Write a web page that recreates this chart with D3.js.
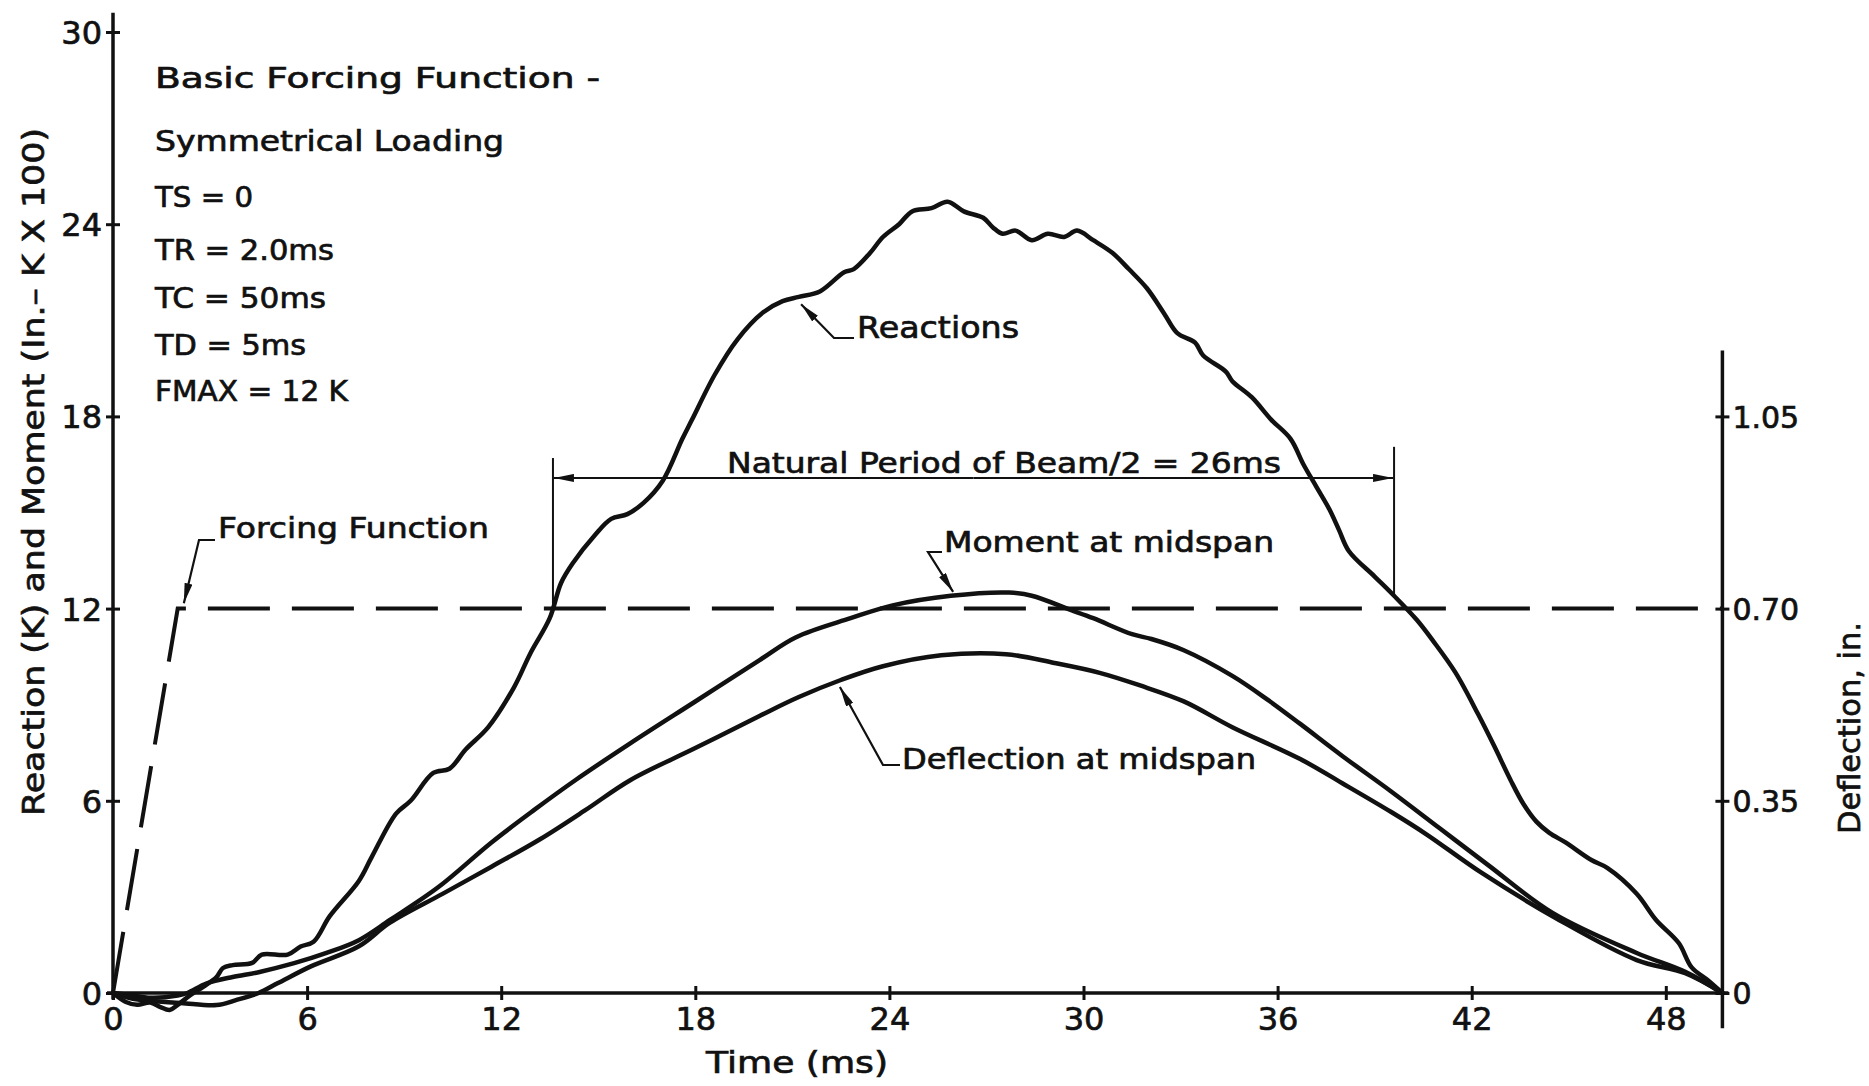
<!DOCTYPE html>
<html>
<head>
<meta charset="utf-8">
<script src="https://cdn.jsdelivr.net/npm/d3@7"></script>
<style>
  html, body { margin: 0; padding: 0; background: #fff; }
  svg { display: block; background: #fff; }
  text { font-family: "DejaVu Sans", "Liberation Sans", sans-serif; fill: #111; font-weight: normal;
         stroke: #111; stroke-width: 0.7px; }
</style>
</head>
<body>
<svg id="chart" width="1869" height="1086"></svg>
<script>
// ---- data ----
const timeTicks = [0, 6, 12, 18, 24, 30, 36, 42, 48];
const forceTicks = [0, 6, 12, 18, 24, 30];
const deflTicks = [0, 0.35, 0.70, 1.05];
const deflTickLabels = ["0", "0.35", "0.70", "1.05"];

const parameterLines = ["TS = 0", "TR = 2.0ms", "TC = 50ms", "TD = 5ms", "FMAX = 12 K"];

// forcing function (K) vs time (ms)
const forcing = [[0, 0], [2, 12], [49.75, 12]];

// support reactions (K) vs time (ms)
const reactions = [
  [0, 0], [0.4, -0.28], [0.75, -0.37], [1.15, -0.3], [1.45, -0.43], [1.75, -0.53], [2.0, -0.37],
  [2.4, -0.06], [2.8, 0.2], [3.2, 0.5], [3.4, 0.78], [3.7, 0.87], [4.3, 0.94], [4.6, 1.2],
  [5.4, 1.2], [5.8, 1.45], [6.2, 1.6], [6.7, 2.4], [7.6, 3.5], [8.0, 4.25], [8.75, 5.6],
  [9.2, 6.0], [9.9, 6.87], [10.4, 7.0], [10.9, 7.6], [11.6, 8.3], [12.4, 9.55], [12.9, 10.6],
  [13.5, 11.7], [13.85, 12.8], [14.2, 13.4], [14.9, 14.3], [15.4, 14.8], [15.9, 14.95],
  [16.4, 15.3], [17.0, 16.0], [17.6, 17.3], [17.9, 17.9], [18.6, 19.3], [19.3, 20.4],
  [20.1, 21.25], [20.7, 21.6], [21.2, 21.73], [21.85, 21.9], [22.6, 22.5], [22.9, 22.6],
  [23.4, 23.1], [23.8, 23.6], [24.3, 24.0], [24.7, 24.4], [25.3, 24.5], [25.8, 24.7],
  [26.3, 24.4], [26.9, 24.2], [27.2, 23.9], [27.5, 23.7], [27.9, 23.8], [28.4, 23.5],
  [28.9, 23.7], [29.4, 23.6], [29.8, 23.8], [30.3, 23.5], [30.9, 23.1], [31.4, 22.6],
  [31.96, 22.0], [32.5, 21.2], [32.9, 20.6], [33.45, 20.3], [33.7, 19.9], [34.4, 19.4],
  [34.6, 19.1], [35.2, 18.6], [35.8, 17.9], [36.4, 17.3], [36.8, 16.5], [37.2, 15.8],
  [37.6, 15.1], [37.9, 14.45], [38.2, 13.8], [39.0, 13.0], [39.6, 12.4], [40.3, 11.65],
  [40.8, 11.0], [41.5, 10.0], [42.2, 8.7], [42.7, 7.7], [43.2, 6.65], [43.6, 5.9],
  [44.0, 5.35], [44.4, 5.0], [44.9, 4.7], [45.7, 4.15], [46.2, 3.9], [47.1, 3.1],
  [47.7, 2.28], [48.4, 1.56], [48.8, 0.8], [49.3, 0.4], [49.75, 0]
];

// moment at midspan (in-K x 100) vs time (ms)
const moment = [
  [0, 0], [0.4, -0.05], [1.2, -0.15], [2.0, -0.08], [2.3, 0], [2.9, 0.3], [3.7, 0.5],
  [4.5, 0.65], [5.6, 0.93], [6.6, 1.25], [7.6, 1.65], [8.56, 2.28], [10.05, 3.3],
  [11.7, 4.7], [13.0, 5.7], [14.3, 6.65], [16.0, 7.8], [18.0, 9.1], [20.0, 10.4],
  [21.1, 11.1], [22.8, 11.7], [24.1, 12.1], [25.9, 12.4], [27.7, 12.5], [28.4, 12.4],
  [29.6, 11.96], [30.3, 11.7], [31.5, 11.2], [32.1, 11.05], [33.1, 10.7], [34.6, 9.9],
  [35.7, 9.15], [36.7, 8.4], [38.0, 7.4], [39.5, 6.3], [41.0, 5.15], [42.5, 4.0],
  [44.5, 2.5], [47.1, 1.25], [48.6, 0.66], [49.75, 0]
];

// deflection at midspan (in.) vs time (ms)
const deflection = [
  [0, 0], [0.77, -0.012], [2.1, -0.018], [3.2, -0.022], [3.8, -0.013], [4.5, 0],
  [5.1, 0.018], [6.1, 0.048], [7.6, 0.085], [8.56, 0.128], [10.2, 0.181], [11.7, 0.230],
  [13.2, 0.280], [14.6, 0.333], [16.0, 0.388], [18.0, 0.446], [20.0, 0.505], [21.2, 0.539],
  [22.5, 0.570], [23.8, 0.595], [25.6, 0.615], [27.6, 0.617], [29.1, 0.601], [30.5, 0.583],
  [31.75, 0.560], [33.1, 0.531], [34.6, 0.484], [36.7, 0.426], [38.0, 0.382], [39.5, 0.330],
  [40.6, 0.289], [42.3, 0.219], [44.7, 0.133], [47.1, 0.060], [48.6, 0.036], [49.75, 0]
];

const periodStart = 13.6;   // ms
const halfPeriod = 26;      // ms
const endTime = 49.75;      // ms

// ---- scales ----
const svg = d3.select("#chart");
const x = d3.scaleLinear().domain([0, 50]).range([113, 1730.5]);
const y = d3.scaleLinear().domain([0, 30]).range([993, 32]);
const yD = d3.scaleLinear().domain([0, 1.75]).range([993, 32]);

const ink = "#111";

// ---- axes ----
const gx = svg.append("g").attr("transform", `translate(0,${y(0)})`)
  .call(d3.axisBottom(x).tickValues(timeTicks).tickFormat(d3.format("d")).tickSize(7));
gx.select(".domain").remove();
gx.selectAll(".tick line").attr("y1", -7).attr("y2", 7).attr("stroke", ink).attr("stroke-width", 3);
gx.selectAll(".tick text").attr("y", 14).attr("dy", "0.71em")
  .style("font-size", "32px").attr("fill", ink);

const gy = svg.append("g").attr("transform", `translate(${x(0)},0)`)
  .call(d3.axisLeft(y).tickValues(forceTicks).tickFormat(d3.format("d")).tickSize(7));
gy.select(".domain").remove();
gy.selectAll(".tick line").attr("x1", -7).attr("x2", 7).attr("stroke", ink).attr("stroke-width", 3);
gy.selectAll(".tick text").attr("x", -11).attr("dy", "0.36em")
  .style("font-size", "32px").attr("fill", ink);

const gr = svg.append("g").attr("transform", `translate(${x(endTime)},0)`)
  .call(d3.axisRight(yD).tickValues(deflTicks).tickFormat((d, i) => deflTickLabels[i]).tickSize(7));
gr.select(".domain").remove();
gr.selectAll(".tick line").attr("x1", -7).attr("x2", 7).attr("stroke", ink).attr("stroke-width", 3);
gr.selectAll(".tick text").attr("x", 10).attr("dy", "0.36em")
  .style("font-size", "30px").attr("fill", ink);

// axis lines
svg.append("line").attr("x1", x(0) - 6).attr("x2", x(endTime) + 6)
  .attr("y1", y(0)).attr("y2", y(0)).attr("stroke", ink).attr("stroke-width", 3.5);
svg.append("line").attr("x1", x(0)).attr("x2", x(0))
  .attr("y1", y(30.6)).attr("y2", y(-0.2)).attr("stroke", ink).attr("stroke-width", 3.5);
svg.append("line").attr("x1", x(endTime)).attr("x2", x(endTime))
  .attr("y1", yD(1.17)).attr("y2", yD(-0.064)).attr("stroke", ink).attr("stroke-width", 3.5);

// axis titles
svg.append("text").attr("x", 797).attr("y", 1073).attr("text-anchor", "middle")
  .attr("textLength", 182).attr("lengthAdjust", "spacingAndGlyphs")
  .style("font-size", "31px").text("Time (ms)");
svg.append("text").attr("transform", "translate(44,472) rotate(-90)").attr("text-anchor", "middle")
  .attr("textLength", 688).attr("lengthAdjust", "spacingAndGlyphs")
  .style("font-size", "30px").text("Reaction (K) and Moment (In.– K X 100)");
svg.append("text").attr("transform", "translate(1860,728) rotate(-90)").attr("text-anchor", "middle")
  .attr("textLength", 212).attr("lengthAdjust", "spacingAndGlyphs")
  .style("font-size", "30px").text("Deflection, in.");

// ---- series ----
const lineF = d3.line().x(d => x(d[0])).y(d => y(d[1]));
const lineS = d3.line().x(d => x(d[0])).y(d => y(d[1])).curve(d3.curveCatmullRom.alpha(0.5));
const lineD = d3.line().x(d => x(d[0])).y(d => yD(d[1])).curve(d3.curveCatmullRom.alpha(0.5));

svg.append("path").datum(forcing).attr("d", lineF).attr("fill", "none")
  .attr("stroke", ink).attr("stroke-width", 4).attr("stroke-dasharray", "62 22");
svg.append("path").datum(reactions).attr("d", lineS).attr("fill", "none")
  .attr("stroke", ink).attr("stroke-width", 4.5).attr("stroke-linejoin", "round").attr("stroke-linecap", "round");
svg.append("path").datum(moment).attr("d", lineS).attr("fill", "none")
  .attr("stroke", ink).attr("stroke-width", 4.5).attr("stroke-linejoin", "round").attr("stroke-linecap", "round");
svg.append("path").datum(deflection).attr("d", lineD).attr("fill", "none")
  .attr("stroke", ink).attr("stroke-width", 4.5).attr("stroke-linejoin", "round").attr("stroke-linecap", "round");

// ---- arrowhead ----
svg.append("defs").append("marker")
  .attr("id", "arrow").attr("viewBox", "0 0 20 8").attr("refX", 20).attr("refY", 4)
  .attr("markerUnits", "userSpaceOnUse").attr("markerWidth", 20).attr("markerHeight", 8)
  .attr("orient", "auto")
  .append("path").attr("d", "M0,0 L20,4 L0,8 Z").attr("fill", ink);

// ---- natural period dimension ----
const dimY = y(16.08);
svg.append("line").attr("x1", x(periodStart)).attr("x2", x(periodStart))
  .attr("y1", y(16.7)).attr("y2", y(12)).attr("stroke", ink).attr("stroke-width", 2);
svg.append("line").attr("x1", x(periodStart + halfPeriod)).attr("x2", x(periodStart + halfPeriod))
  .attr("y1", y(17.05)).attr("y2", y(12.4)).attr("stroke", ink).attr("stroke-width", 2);
const midT = periodStart + halfPeriod / 2;
svg.append("line").attr("x1", x(midT)).attr("x2", x(periodStart) + 1)
  .attr("y1", dimY).attr("y2", dimY).attr("stroke", ink).attr("stroke-width", 2).attr("marker-end", "url(#arrow)");
svg.append("line").attr("x1", x(midT)).attr("x2", x(periodStart + halfPeriod) - 1)
  .attr("y1", dimY).attr("y2", dimY).attr("stroke", ink).attr("stroke-width", 2).attr("marker-end", "url(#arrow)");
svg.append("text").attr("x", 727).attr("y", 473)
  .attr("textLength", 554).attr("lengthAdjust", "spacingAndGlyphs")
  .style("font-size", "28px").text(`Natural Period of Beam/2 = ${halfPeriod}ms`);

// ---- parameter block ----
svg.append("text").attr("x", 155).attr("y", 88).attr("textLength", 445).attr("lengthAdjust", "spacingAndGlyphs")
  .style("font-size", "28px").text("Basic Forcing Function -");
svg.append("text").attr("x", 155).attr("y", 151).attr("textLength", 349).attr("lengthAdjust", "spacingAndGlyphs")
  .style("font-size", "28px").text("Symmetrical Loading");
const paramY = [207, 260, 308, 355, 401];
const paramW = [98, 179, 171, 151, 193];
parameterLines.forEach((s, i) => {
  svg.append("text").attr("x", 155).attr("y", paramY[i])
    .attr("textLength", paramW[i]).attr("lengthAdjust", "spacingAndGlyphs")
    .style("font-size", "28px").text(s);
});

// ---- leaders and curve labels ----
function leader(pts) {
  svg.append("path").attr("d", d3.line()(pts)).attr("fill", "none")
    .attr("stroke", ink).attr("stroke-width", 2.2).attr("marker-end", "url(#arrow)");
}
// Forcing Function
leader([[215, 540], [199, 540], [x(2.19), y(12.17)]]);
svg.append("text").attr("x", 218).attr("y", 538).attr("textLength", 271).attr("lengthAdjust", "spacingAndGlyphs")
  .style("font-size", "28px").text("Forcing Function");
// Reactions
leader([[854, 338], [834, 338], [x(21.27), y(21.5)]]);
svg.append("text").attr("x", 857).attr("y", 338).attr("textLength", 162).attr("lengthAdjust", "spacingAndGlyphs")
  .style("font-size", "30px").text("Reactions");
// Moment at midspan
leader([[942, 552], [928, 552], [x(25.97), y(12.52)]]);
svg.append("text").attr("x", 944).attr("y", 552).attr("textLength", 330).attr("lengthAdjust", "spacingAndGlyphs")
  .style("font-size", "28px").text("Moment at midspan");
// Deflection at midspan
leader([[900, 765], [883, 765], [x(22.47), y(9.55)]]);
svg.append("text").attr("x", 902).attr("y", 769).attr("textLength", 354).attr("lengthAdjust", "spacingAndGlyphs")
  .style("font-size", "28px").text("Deflection at midspan");
</script>
</body>
</html>
